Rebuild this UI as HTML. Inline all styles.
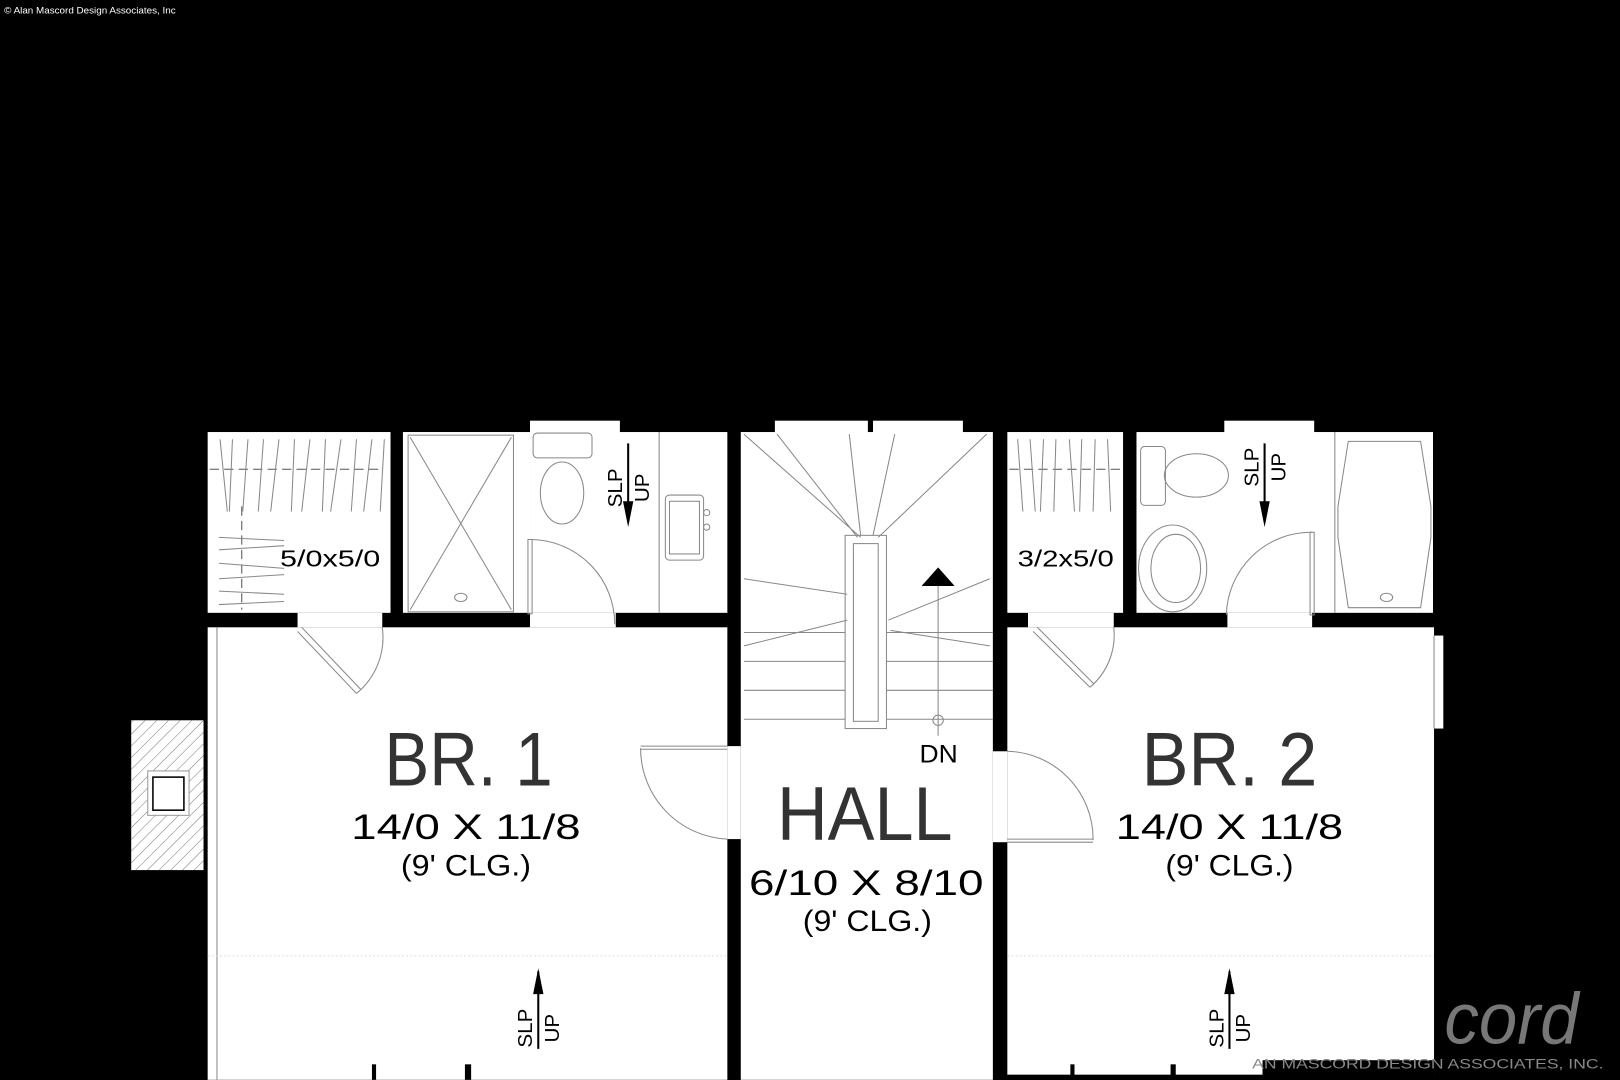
<!DOCTYPE html>
<html><head><meta charset="utf-8"><style>
html,body{margin:0;padding:0;background:#000;}
svg{display:block;}
text{font-family:"Liberation Sans",sans-serif;}
</style></head><body>
<svg width="1620" height="1080" viewBox="0 0 1568 1045" xmlns="http://www.w3.org/2000/svg">
<rect width="1568" height="1045" fill="#000"/>
<text x="4" y="13" fill="#fff" font-size="9" textLength="166" lengthAdjust="spacingAndGlyphs">© Alan Mascord Design Associates, Inc</text>

<!-- white rooms -->
<g fill="#fff">
  <rect x="201" y="418" width="177" height="175"/>
  <rect x="390" y="418" width="123" height="175"/>
  <rect x="513" y="418" width="191" height="175"/>
  <rect x="513" y="407" width="87" height="12"/>
  <rect x="201" y="607" width="503" height="438"/>
  <rect x="288" y="593" width="82" height="14"/>
  <rect x="513" y="593" width="83" height="14"/>
  <rect x="717" y="418" width="244" height="627"/>
  <rect x="750" y="407" width="90" height="12"/>
  <rect x="845" y="407" width="87" height="12"/>
  <rect x="975" y="418" width="112" height="175"/>
  <rect x="1100" y="418" width="287" height="175"/>
  <rect x="1185" y="407" width="87" height="12"/>
  <rect x="975" y="607" width="413" height="433"/>
  <rect x="995" y="593" width="83" height="14"/>
  <rect x="1188" y="593" width="82" height="14"/>
  <rect x="1386" y="615" width="11" height="90"/>
  <!-- door openings in hall walls -->
  <rect x="704" y="722" width="13" height="90"/>
  <rect x="961" y="727" width="14" height="88"/>
</g>
<rect x="1222" y="1026" width="166" height="19" fill="#000"/>
<rect x="360" y="1030" width="4" height="15" fill="#000"/>
<rect x="450" y="1030" width="6" height="15" fill="#000"/>
<rect x="1036" y="1030" width="4" height="15" fill="#000"/>
<rect x="1133" y="1030" width="5" height="15" fill="#000"/>

<!-- chimney -->
<rect x="127" y="697" width="70" height="145" fill="#fff"/>
<g stroke="#666" stroke-width="0.8" clip-path="url(#cc)">
<clipPath id="cc"><rect x="127" y="697" width="70" height="145"/></clipPath>
</g>
<defs><pattern id="hat" width="8" height="8" patternUnits="userSpaceOnUse" patternTransform="rotate(45)"><line x1="0" y1="0" x2="0" y2="8" stroke="#777" stroke-width="1"/></pattern></defs>
<rect x="127" y="697" width="70" height="145" fill="url(#hat)"/>
<rect x="143" y="746" width="40" height="43" fill="#fff" stroke="#999"/>
<rect x="148" y="752" width="30" height="32" fill="#fff" stroke="#000" stroke-width="1.5"/>

<!-- thin lines -->
<g stroke="#888" stroke-width="1" fill="none">
  <line x1="210" y1="607" x2="210" y2="1045"/>
  <line x1="201" y1="925" x2="704" y2="925" stroke="#ddd" stroke-dasharray="2,2"/>
  <line x1="975" y1="925" x2="1388" y2="925" stroke="#ddd" stroke-dasharray="2,2"/>
  <!-- closet 1 rods -->
  <line x1="203" y1="454" x2="371" y2="454" stroke="#555" stroke-dasharray="9,5"/>
  <line x1="234" y1="490" x2="234" y2="590" stroke="#555" stroke-dasharray="9,5"/>
  <path d="M213 425 L220 495 M225 425 L222 495 M240 425 L235 495 M255 425 L250 495 M270 425 L262 495 M285 425 L282 495 M300 425 L292 495 M315 425 L312 495 M330 425 L320 495 M345 425 L340 495 M360 425 L352 495 M372 425 L368 495"/>
  <path d="M212 520 L275 523 M212 532 L275 528 M212 545 L275 550 M212 560 L275 556 M212 572 L275 575 M212 585 L275 582"/>
  <!-- shower -->
  <rect x="395" y="421" width="102" height="171"/>
  <line x1="397" y1="423" x2="495" y2="590"/>
  <line x1="495" y1="423" x2="397" y2="590"/>
  <ellipse cx="446" cy="578" rx="6" ry="4"/>
  <!-- toilet 1 -->
  <rect x="516" y="419" width="57" height="24" rx="4"/>
  <ellipse cx="544" cy="477" rx="21" ry="30"/>
  <!-- sink 1 -->
  <line x1="638" y1="418" x2="638" y2="593"/>
  <rect x="644" y="479" width="37" height="63" rx="4"/>
  <rect x="648" y="485" width="29" height="51"/>
  <circle cx="684" cy="496" r="3"/><circle cx="684" cy="510" r="3"/>
  <!-- bath1 door -->
  <path d="M513 522 A82 82 0 0 1 595 604"/>
  <rect x="511" y="522" width="4" height="72"/>
  <!-- closet1 door -->
  <path d="M288 611 L345 671 M292 607 L349 667"/>
  <path d="M345 671 A70 70 0 0 0 370 607"/>
  <!-- hall door -->
  <path d="M620 722 L704 722 M620 725 L704 725"/>
  <path d="M620 724 A88 88 0 0 0 704 812"/>
  <!-- BR2 door -->
  <path d="M975 812 L1058 812 M975 815 L1058 815"/>
  <path d="M1058 813 A85 85 0 0 0 975 727"/>
  <!-- stairs winders -->
  <path d="M720 420 L833 520 M752 420 L830 520 M822 420 L833 518 M866 420 L845 518 M955 420 L850 520 M720 560 L820 575 M720 625 L820 600 M958 560 L860 600 M958 625 L862 610"/>
  <path d="M720 612 L818 612 M858 612 L961 612 M720 640 L818 640 M858 640 L961 640 M720 668 L818 668 M858 668 L961 668 M720 696 L818 696 M858 696 L961 696"/>
  <rect x="818" y="518" width="40" height="187"/>
  <rect x="826" y="526" width="24" height="172"/>
  <line x1="908" y1="565" x2="908" y2="712"/>
  <circle cx="908" cy="697" r="5"/>
  <!-- closet2 -->
  <line x1="977" y1="454" x2="1085" y2="454" stroke="#555" stroke-dasharray="9,5"/>
  <path d="M985 425 L990 495 M997 425 L1002 495 M1010 425 L1007 495 M1022 425 L1020 495 M1035 425 L1040 495 M1047 425 L1045 495 M1060 425 L1058 495 M1072 425 L1075 495"/>
  <path d="M1000 611 L1055 665 M1004 607 L1059 662"/>
  <path d="M1055 665 A66 66 0 0 0 1078 607"/>
  <!-- toilet 2 -->
  <rect x="1104" y="432" width="24" height="57" rx="4"/>
  <ellipse cx="1158" cy="460" rx="31" ry="21"/>
  <!-- sink 2 -->
  <ellipse cx="1135" cy="550" rx="33" ry="42"/>
  <ellipse cx="1138" cy="550" rx="24" ry="33"/>
  <!-- bath2 door -->
  <path d="M1187 595 A82 82 0 0 1 1270 515"/>
  <rect x="1268" y="515" width="4" height="80"/>
  <!-- tub -->
  <line x1="1292" y1="418" x2="1292" y2="593"/>
  <path d="M1305 427 L1375 427 L1385 490 L1385 520 L1375 588 L1305 588 L1295 520 L1295 490 Z"/>
  <ellipse cx="1342" cy="578" rx="6" ry="4"/>
  <line x1="1388" y1="615" x2="1388" y2="705"/>
</g>

<!-- arrows -->
<g fill="#000" stroke="#000">
  <line x1="608" y1="429" x2="608" y2="505" stroke-width="2"/>
  <polygon points="603,485 613,485 608,510" stroke="none"/>
  <line x1="1224" y1="429" x2="1224" y2="505" stroke-width="2"/>
  <polygon points="1219,485 1229,485 1224,510" stroke="none"/>
  <line x1="521" y1="940" x2="521" y2="1015" stroke-width="2"/>
  <polygon points="516,962 526,962 521,937" stroke="none"/>
  <line x1="1190" y1="940" x2="1190" y2="1015" stroke-width="2"/>
  <polygon points="1185,962 1195,962 1190,937" stroke="none"/>
  <polygon points="892,567 924,567 908,549" stroke="none"/>
</g>
<g font-size="20" fill="#000">
  <text transform="translate(602,472) rotate(-90)" text-anchor="middle">SLP</text>
  <text transform="translate(628,472) rotate(-90)" text-anchor="middle">UP</text>
  <text transform="translate(1218,452) rotate(-90)" text-anchor="middle">SLP</text>
  <text transform="translate(1244,452) rotate(-90)" text-anchor="middle">UP</text>
  <text transform="translate(515,995) rotate(-90)" text-anchor="middle">SLP</text>
  <text transform="translate(541,995) rotate(-90)" text-anchor="middle">UP</text>
  <text transform="translate(1184,995) rotate(-90)" text-anchor="middle">SLP</text>
  <text transform="translate(1210,995) rotate(-90)" text-anchor="middle">UP</text>
</g>

<!-- labels -->
<g fill="#000">
  <text x="271" y="548" font-size="22" textLength="97" lengthAdjust="spacingAndGlyphs">5/0x5/0</text>
  <text x="985" y="548" font-size="22" textLength="93" lengthAdjust="spacingAndGlyphs">3/2x5/0</text>
  <text x="890" y="738" font-size="24" textLength="37" lengthAdjust="spacingAndGlyphs">DN</text>
  <g fill="#333">
  <text x="372" y="760" font-size="74" textLength="163" lengthAdjust="spacingAndGlyphs">BR. 1</text>
  <text x="752" y="813" font-size="74" textLength="170" lengthAdjust="spacingAndGlyphs">HALL</text>
  <text x="1105" y="760" font-size="74" textLength="170" lengthAdjust="spacingAndGlyphs">BR. 2</text>
  </g>
  <text x="340" y="812" font-size="34" textLength="222" lengthAdjust="spacingAndGlyphs">14/0  X  11/8</text>
  <text x="388" y="847" font-size="29" textLength="126" lengthAdjust="spacingAndGlyphs">(9' CLG.)</text>
  <text x="725" y="866" font-size="34" textLength="227" lengthAdjust="spacingAndGlyphs">6/10  X  8/10</text>
  <text x="777" y="901" font-size="29" textLength="125" lengthAdjust="spacingAndGlyphs">(9' CLG.)</text>
  <text x="1080" y="812" font-size="34" textLength="220" lengthAdjust="spacingAndGlyphs">14/0  X  11/8</text>
  <text x="1128" y="847" font-size="29" textLength="124" lengthAdjust="spacingAndGlyphs">(9' CLG.)</text>
</g>

<!-- watermark -->
<text x="1398" y="1010" font-family="Liberation Serif,serif" font-style="italic" font-size="70" fill="#777" textLength="130" lengthAdjust="spacingAndGlyphs">cord</text>
<text x="1212" y="1034" font-family="Liberation Serif,serif" font-size="13" fill="#888" textLength="340" lengthAdjust="spacingAndGlyphs">AN MASCORD DESIGN ASSOCIATES, INC.</text>
</svg>
</body></html>
